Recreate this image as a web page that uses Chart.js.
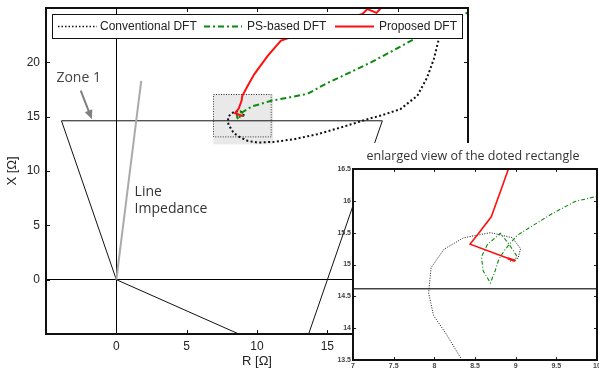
<!DOCTYPE html>
<html>
<head>
<meta charset="utf-8">
<script src="https://cdn.jsdelivr.net/npm/chart.js@4.4.0/dist/chart.umd.min.js"></script>
<style>
  html, body { margin: 0; padding: 0; background: #fff; }
  #wrap { position: relative; width: 599px; height: 371px; }
  #main { position: absolute; left: 0; top: 0; }
  #zoom { position: absolute; left: 330px; top: 143px; }
</style>
</head>
<body>
<div id="wrap">
  <canvas id="main" width="599" height="371"></canvas>
  <canvas id="zoom" width="269" height="228"></canvas>
</div>
<script>
// impedance trajectories, [R, X] in ohm
const conventionalDft = [
  [23.1, 24.0], [22.93, 22.16], [22.57, 20.31], [22.1, 18.62], [21.4, 16.93], [20.2, 15.7],
  [18.8, 15.1], [17.85, 14.77], [15.96, 14.0], [14.3, 13.39], [12.65, 12.93], [11.23, 12.68],
  [10.05, 12.62], [9.34, 12.77], [8.8, 13.1], [8.34, 13.5], [8.14, 13.92], [7.99, 14.2],
  [7.93, 14.55], [7.96, 14.95], [8.12, 15.24], [8.36, 15.42], [8.69, 15.5], [8.96, 15.42],
  [9.06, 15.25], [9.03, 15.1], [8.93, 15.05]
];
const psBasedDft = [
  [25.5, 25.0], [25.0, 24.6], [23.2, 23.4], [21.4, 22.3], [19.7, 21.1], [18.1, 20.0],
  [16.5, 19.0], [15.0, 18.1], [13.6, 17.1], [12.2, 16.75], [11.0, 16.46], [10.0, 16.07],
  [9.73, 15.99], [9.45, 15.8], [9.26, 15.65], [9.02, 15.46], [8.93, 15.33], [8.85, 15.2],
  [8.79, 15.07], [8.75, 14.91], [8.69, 14.71], [8.6, 14.9], [8.58, 15.12], [8.65, 15.31],
  [8.81, 15.49], [8.9, 15.35], [8.97, 15.22], [9.02, 15.12], [8.98, 15.07], [8.93, 15.08]
];
const proposedDft = [
  [18.95, 25.2], [18.5, 24.55], [17.85, 24.9], [17.5, 24.45], [16.5, 24.1], [14.5, 23.4],
  [12.4, 22.3], [11.7, 22.0], [10.76, 20.6], [9.8, 18.9], [9.34, 17.85], [8.95, 16.9],
  [8.91, 16.5], [8.85, 16.28], [8.7, 15.75], [8.55, 15.5], [8.44, 15.32], [8.88, 15.11],
  [9.0, 15.06], [8.9, 15.09], [8.99, 15.05], [8.91, 15.1], [8.98, 15.07], [8.93, 15.08]
];

// relay zone and line
const zone1 = [[0, 0], [-3.9, 14.62], [18.91, 14.62], [13.01, -7.47], [0, 0]];
const lineImpedance = [[0, 0], [1.77, 18.3]];
const zoomShade = [[6.9, 12.45], [11.15, 17.1]];
const zoomFrame = [[6.9, 13.2], [11.0, 17.1]];
const zoneArrow = [[-2.53, 17.39], [-1.74, 14.77]];

// axes
const xRange = [-5, 25];
const yRange = [-5, 25];
const xTicks = [0, 5, 10, 15, 20, 25];
const yTicks = [0, 5, 10, 15, 20];
const zoomXRange = [7, 10];
const zoomYRange = [13.5, 16.5];
const zoomXTicks = [7, 7.5, 8, 8.5, 9, 9.5, 10];
const zoomYTicks = [13.5, 14, 14.5, 15, 15.5, 16, 16.5];

const toPoints = arr => arr.map(([r, x]) => ({ x: r, y: x }));

const GREEN = '#0b8a0b';
const RED = '#ff1010';

function innerTicks(chart, len, color) {
  const { ctx, chartArea: a, scales: { x, y } } = chart;
  ctx.save();
  ctx.strokeStyle = color;
  ctx.lineWidth = 1;
  ctx.beginPath();
  x.ticks.forEach(t => {
    const px = Math.round(x.getPixelForValue(t.value)) + 0.5;
    ctx.moveTo(px, a.bottom); ctx.lineTo(px, a.bottom - len);
    ctx.moveTo(px, a.top); ctx.lineTo(px, a.top + len);
  });
  y.ticks.forEach(t => {
    const py = Math.round(y.getPixelForValue(t.value)) + 0.5;
    ctx.moveTo(a.left, py); ctx.lineTo(a.left + len, py);
    ctx.moveTo(a.right, py); ctx.lineTo(a.right - len, py);
  });
  ctx.stroke();
  ctx.lineWidth = 2;
  ctx.strokeStyle = '#111';
  ctx.strokeRect(a.left, a.top, a.right - a.left, a.bottom - a.top);
  ctx.restore();
}

function fixSize(w, h) {
  return scale => {
    if (w != null) scale.width = w;
    if (h != null) scale.height = h;
    scale.paddingLeft = scale.paddingRight = scale.paddingTop = scale.paddingBottom = 0;
  };
}

const mainDecor = {
  id: 'mainDecor',
  beforeDatasetsDraw(chart) {
    const { ctx, scales: { x, y } } = chart;
    ctx.save();
    const sx0 = x.getPixelForValue(zoomShade[0][0]), sx1 = x.getPixelForValue(zoomShade[1][0]);
    const sy0 = y.getPixelForValue(zoomShade[1][1]), sy1 = y.getPixelForValue(zoomShade[0][1]);
    ctx.fillStyle = '#e9e9e9';
    ctx.fillRect(sx0, sy0, sx1 - sx0, sy1 - sy0);
    const fx0 = x.getPixelForValue(zoomFrame[0][0]), fx1 = x.getPixelForValue(zoomFrame[1][0]);
    const fy0 = y.getPixelForValue(zoomFrame[1][1]), fy1 = y.getPixelForValue(zoomFrame[0][1]);
    ctx.strokeStyle = '#333';
    ctx.lineWidth = 1;
    ctx.setLineDash([1, 1.5]);
    ctx.strokeRect(Math.round(fx0) + 0.5, Math.round(fy0) + 0.5, fx1 - fx0, fy1 - fy0);
    ctx.restore();
  },
  afterDatasetsDraw(chart) {
    const { ctx, scales: { x, y } } = chart;
    innerTicks(chart, 4, '#111');
    ctx.save();

    // zone arrow
    const ax0 = x.getPixelForValue(zoneArrow[0][0]), ay0 = y.getPixelForValue(zoneArrow[0][1]);
    const ax1 = x.getPixelForValue(zoneArrow[1][0]), ay1 = y.getPixelForValue(zoneArrow[1][1]);
    const ang = Math.atan2(ay1 - ay0, ax1 - ax0);
    ctx.strokeStyle = '#808080';
    ctx.fillStyle = '#808080';
    ctx.lineWidth = 2;
    ctx.beginPath();
    ctx.moveTo(ax0, ay0);
    ctx.lineTo(ax1 - 6 * Math.cos(ang), ay1 - 6 * Math.sin(ang));
    ctx.stroke();
    ctx.beginPath();
    ctx.moveTo(ax1, ay1);
    ctx.lineTo(ax1 - 9 * Math.cos(ang) + 4 * Math.sin(ang), ay1 - 9 * Math.sin(ang) - 4 * Math.cos(ang));
    ctx.lineTo(ax1 - 9 * Math.cos(ang) - 4 * Math.sin(ang), ay1 - 9 * Math.sin(ang) + 4 * Math.cos(ang));
    ctx.closePath();
    ctx.fill();

    ctx.font = '14px "Open Sans"';
    ctx.fillStyle = '#444';
    ctx.textBaseline = 'middle';
    ctx.textAlign = 'left';
    ctx.fillText('Zone 1', x.getPixelForValue(-4.26), y.getPixelForValue(18.6));
    ctx.fillStyle = '#333';
    ctx.fillText('Line', x.getPixelForValue(1.3), y.getPixelForValue(8.06));
    ctx.fillText('Impedance', x.getPixelForValue(1.3), y.getPixelForValue(6.53));

    // legend
    ctx.fillStyle = '#fff';
    ctx.fillRect(52, 14, 411, 24);
    ctx.strokeStyle = '#111';
    ctx.lineWidth = 1;
    ctx.strokeRect(52.5, 14.5, 410, 24);
    const ly = 26.5;
    const items = [
      { x0: 58, x1: 97, tx: 100, color: '#111', dash: [1.5, 2], w: 1.5, label: 'Conventional DFT' },
      { x0: 204, x1: 242, tx: 247, color: GREEN, dash: [6, 3, 2, 3], w: 2, label: 'PS-based DFT' },
      { x0: 335, x1: 374, tx: 379, color: RED, dash: [], w: 2, label: 'Proposed DFT' }
    ];
    ctx.font = '12px "Liberation Sans", Arial';
    items.forEach(it => {
      ctx.beginPath();
      ctx.setLineDash(it.dash);
      ctx.strokeStyle = it.color;
      ctx.lineWidth = it.w;
      ctx.moveTo(it.x0, ly); ctx.lineTo(it.x1, ly);
      ctx.stroke();
      ctx.setLineDash([]);
      ctx.fillStyle = '#222';
      ctx.fillText(it.label, it.tx, ly);
    });
    ctx.restore();
  }
};

const zoomDecor = {
  id: 'zoomDecor',
  beforeDraw(chart) {
    const { ctx, chartArea: a, width, height } = chart;
    ctx.save();
    ctx.fillStyle = '#fff';
    ctx.fillRect(a.left - 1, 0, width - a.left + 1, height);
    ctx.font = '12.5px "Open Sans"';
    ctx.fillStyle = '#333';
    ctx.textAlign = 'center';
    ctx.textBaseline = 'middle';
    ctx.fillText('enlarged view of the doted rectangle', (a.left + a.right) / 2 - 2, 13);
    ctx.restore();
  },
  afterDatasetsDraw(chart) {
    innerTicks(chart, 3, '#222');
  }
};

const zeroGrid = {
  drawTicks: false,
  color: c => (c.tick && c.tick.value === 0 ? '#000' : 'rgba(0,0,0,0)'),
  lineWidth: 1
};

new Chart(document.getElementById('main'), {
  type: 'scatter',
  data: {
    datasets: [
      { data: toPoints(proposedDft), showLine: true, borderColor: RED, borderWidth: 2, pointRadius: 0 },
      { data: toPoints(psBasedDft), showLine: true, borderColor: GREEN, borderWidth: 2, borderDash: [6, 3, 2, 3], pointRadius: 0 },
      { data: toPoints(conventionalDft), showLine: true, borderColor: '#111', borderWidth: 2, borderDash: [2, 2.4], pointRadius: 0 },
      { data: toPoints(lineImpedance), showLine: true, borderColor: '#aaa', borderWidth: 2, pointRadius: 0 },
      { data: toPoints(zone1), showLine: true, borderColor: '#111', borderWidth: 1, pointRadius: 0 }
    ]
  },
  options: {
    responsive: false,
    animation: false,
    layout: { padding: { top: 8, right: 131, left: 0, bottom: 0 } },
    plugins: { legend: { display: false }, tooltip: { enabled: false } },
    scales: {
      x: {
        type: 'linear', min: xRange[0], max: xRange[1],
        afterBuildTicks: s => { s.ticks = xTicks.map(v => ({ value: v })); },
        afterFit: fixSize(null, 37),
        grid: zeroGrid,
        border: { display: false },
        ticks: { padding: 5, color: '#222', font: { family: '"Liberation Sans", Arial', size: 12 }, maxRotation: 0, autoSkip: false },
        title: { display: true, text: 'R [Ω]', color: '#222', font: { family: '"Liberation Sans", Arial', size: 13 }, padding: { top: 0, bottom: 2 } }
      },
      y: {
        type: 'linear', min: yRange[0], max: yRange[1],
        afterBuildTicks: s => { s.ticks = yTicks.map(v => ({ value: v })); },
        afterFit: fixSize(46, null),
        grid: zeroGrid,
        border: { display: false },
        ticks: { padding: 6, color: '#222', font: { family: '"Liberation Sans", Arial', size: 12 }, autoSkip: false },
        title: { display: true, text: 'X [Ω]', color: '#222', font: { family: '"Liberation Sans", Arial', size: 13 }, padding: { top: 5, bottom: 0 } }
      }
    }
  },
  plugins: [mainDecor]
});

const tinyTicks = {
  padding: 2, color: '#444', font: { family: '"Liberation Sans", Arial', size: 7, weight: 'bold' },
  maxRotation: 0, autoSkip: false, callback: v => String(v)
};

new Chart(document.getElementById('zoom'), {
  type: 'scatter',
  data: {
    datasets: [
      { data: toPoints(proposedDft), showLine: true, borderColor: RED, borderWidth: 1.6, pointRadius: 0 },
      { data: toPoints(psBasedDft), showLine: true, borderColor: GREEN, borderWidth: 1.1, borderDash: [4, 2, 1, 2], pointRadius: 0 },
      { data: toPoints(conventionalDft), showLine: true, borderColor: '#111', borderWidth: 1, borderDash: [1, 1.5], pointRadius: 0 },
      { data: toPoints(zone1), showLine: true, borderColor: '#444', borderWidth: 1.5, pointRadius: 0 }
    ]
  },
  options: {
    responsive: false,
    animation: false,
    layout: { padding: { top: 26, right: 2, left: 0, bottom: 0 } },
    plugins: { legend: { display: false }, tooltip: { enabled: false } },
    scales: {
      x: {
        type: 'linear', min: zoomXRange[0], max: zoomXRange[1],
        afterBuildTicks: s => { s.ticks = zoomXTicks.map(v => ({ value: v })); },
        afterFit: fixSize(null, 11),
        grid: { display: false, drawTicks: false },
        border: { display: false },
        ticks: tinyTicks
      },
      y: {
        type: 'linear', min: zoomYRange[0], max: zoomYRange[1],
        afterBuildTicks: s => { s.ticks = zoomYTicks.map(v => ({ value: v })); },
        afterFit: fixSize(23, null),
        grid: { display: false, drawTicks: false },
        border: { display: false },
        ticks: tinyTicks
      }
    }
  },
  plugins: [zoomDecor]
});
</script>
</body>
</html>
